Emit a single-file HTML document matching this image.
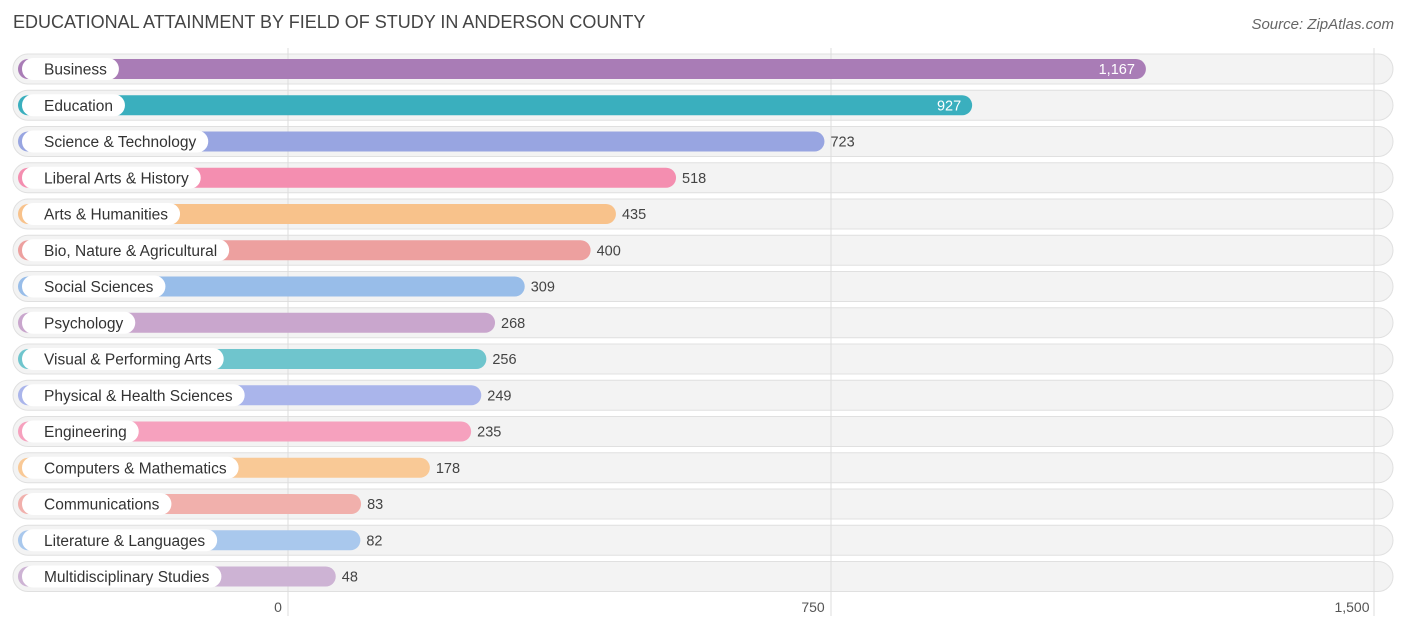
<!DOCTYPE html>
<html><head><meta charset="utf-8"><style>
body{margin:0;background:#fff;font-family:"Liberation Sans",sans-serif;}
#wrap{position:relative;width:1406px;height:632px;overflow:hidden;}
.title{position:absolute;left:13px;top:12px;font-size:18px;color:#444;}
.src{position:absolute;right:12px;top:16px;font-size:15px;color:#666;font-style:italic}
</style></head><body>
<div id="wrap">
<div class="title">EDUCATIONAL ATTAINMENT BY FIELD OF STUDY IN ANDERSON COUNTY</div>
<div class="src">Source: ZipAtlas.com</div>
<svg id="svg" width="1406" height="632" style="position:absolute;left:0;top:0"></svg>
</div>
<script>
const categories=["Business","Education","Science & Technology","Liberal Arts & History","Arts & Humanities","Bio, Nature & Agricultural","Social Sciences","Psychology","Visual & Performing Arts","Physical & Health Sciences","Engineering","Computers & Mathematics","Communications","Literature & Languages","Multidisciplinary Studies"];
const values=[1167,927,723,518,435,400,309,268,256,249,235,178,83,82,48];
const colors=["#a97cb6","#3aafbe","#98a5e1","#f48eb0","#f8c28b","#eda09f","#98bde9","#c9a6cd","#6fc5cd","#aab5eb","#f6a1be","#f9c996","#f1b0ac","#a9c8ed","#cdb3d4"];
const ticks=[0,750,1500];
const tickLabels=["0","750","1,500"];
const NS="http://www.w3.org/2000/svg";
const svg=document.getElementById("svg");
const x0=288,x1=1374,vmax=1500;
function xs(v){return x0+v*(x1-x0)/vmax;}
function rowY(i){return 69+i*36.25;}
function mk(t,a){const e=document.createElementNS(NS,t);for(const k in a)e.setAttribute(k,a[k]);svg.appendChild(e);return e;}
categories.forEach(function(c,i){
  const y=rowY(i);
  const bg=mk("rect",{x:13,y:y-15,width:1380,height:30,rx:15,fill:"#f3f3f3",stroke:"#e0e0e0","stroke-width":1});
  
  
});
ticks.forEach(function(t,i){
  const l=mk("line",{x1:xs(t),x2:xs(t),y1:48,y2:616,stroke:"#dddddd","stroke-width":1});
  
  
  const off=(i===0)?-10:((i===2)?-22:-18);
  const tx=mk("text",{x:xs(t)+off,y:612,"text-anchor":"middle","font-size":14,fill:"#555"});
  tx.textContent=tickLabels[i];
  
  
});
categories.forEach(function(c,i){
  const y=rowY(i);
  const end=xs(values[i])+13;
  const b=mk("rect",{x:18,y:y-10,width:end-18,height:20,rx:10,fill:colors[i]});
  
  
  const lt=mk("text",{x:44,y:y+5.5,"font-size":15.5,fill:"#333"});
  lt.textContent=c;
  
  
  let w=0;
  try{w=lt.getComputedTextLength();}catch(e){w=0;}
  if(!w)w=c.length*7.6;
  const pill=mk("rect",{x:22,y:y-11,width:w+34,height:22,rx:11,fill:"#fff"});
  
  
  svg.insertBefore(pill,lt);
  const inside=values[i]>800;
  const vt=mk("text",{x:inside?end-11:end+6,y:y+5,"font-size":14.5,fill:inside?"#fff":"#444","text-anchor":inside?"end":"start"});
  vt.textContent=values[i].toLocaleString("en-US");
  
  
});
</script>
</body></html>
